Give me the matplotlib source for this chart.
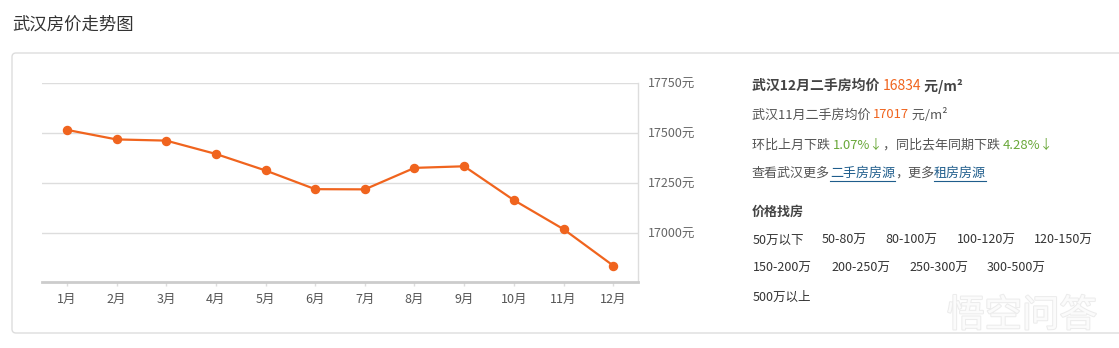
import matplotlib
matplotlib.use('Agg')
import matplotlib.pyplot as plt
from matplotlib.patches import FancyBboxPatch
from matplotlib.lines import Line2D
from matplotlib.transforms import IdentityTransform
import matplotlib.patheffects as pe

plt.rcParams['font.family'] = ['Noto Sans CJK SC', 'DejaVu Sans']

# data
months = ['1月', '2月', '3月', '4月', '5月', '6月', '7月', '8月', '9月', '10月', '11月', '12月']
prices = [17516, 17468, 17462, 17395, 17312, 17218, 17217, 17325, 17333, 17163, 17017, 16834]
yticks = [17000, 17250, 17500, 17750]
price_rows = [['50万以下', '50-80万', '80-100万', '100-120万', '120-150万'],
              ['150-200万', '200-250万', '250-300万', '300-500万'],
              ['500万以上']]

W, H = 1119, 348
orange = '#f0641e'
green = '#6aa83a'
grey = '#555555'
dark = '#444444'
link = '#1f5d8c'

fig = plt.figure(figsize=(W / 100, H / 100), dpi=100)
fig.patch.set_facecolor('white')
renderer = fig.canvas.get_renderer()

def fx(x):
    return x / W

def fy(y):
    return 1 - y / H

# title and outer box
fig.text(fx(12), fy(25), '武汉房价走势图', fontsize=12.5, color='#333333', va='center')
box = FancyBboxPatch((12, H - 333), 1140, 280, boxstyle='round,pad=0,rounding_size=4',
                     transform=IdentityTransform(), fc='white', ec='#dddddd', lw=1, zorder=-10)
fig.add_artist(box)

# chart
ax = fig.add_axes([fx(42), 1 - 282.3 / H, 596 / W, 199 / H])
ax.set_facecolor('none')
x = range(len(months))
ax.plot(x, prices, color=orange, lw=1.6, marker='o', ms=5.8, zorder=3)
ax.set_xlim(-0.5, len(months) - 0.5)
ax.set_ylim(16750, 17750)
ax.set_xticks(list(x))
ax.set_xticklabels(months)
ax.set_yticks(yticks)
ax.set_yticklabels([f'{v}元' for v in yticks])
ax.yaxis.tick_right()
ax.tick_params(axis='y', length=0, pad=7, labelsize=9, labelcolor='#666666')
ax.tick_params(axis='x', length=3, width=1, color='#dddddd', pad=5, labelsize=9, labelcolor=grey)
ax.grid(axis='y', color='#dddddd', lw=1)
ax.set_axisbelow(True)
for s in ['left', 'top']:
    ax.spines[s].set_visible(False)
ax.spines['right'].set_color('#dddddd')
ax.spines['right'].set_linewidth(1)
ax.spines['bottom'].set_color('#cccccc')
ax.spines['bottom'].set_linewidth(2)


def runs(x0, y, parts, size=9.4):
    xc = x0
    for txt, color, weight, ul in parts:
        t = fig.text(fx(xc), fy(y), txt, color=color, fontsize=size, fontweight=weight,
                     va='center', ha='left')
        bb = t.get_window_extent(renderer)
        if ul:
            fig.add_artist(Line2D([fx(xc), fx(xc + bb.width)], [fy(y + 8), fy(y + 8)],
                                  color=color, lw=0.8))
        xc += bb.width
    return xc


runs(752, 86, [('武汉12月二手房均价 ', dark, 'bold', False),
               (str(prices[-1]), orange, 'normal', False),
               (' 元/m²', dark, 'bold', False)], size=10)
runs(752, 115, [('武汉11月二手房均价 ', grey, 'normal', False),
                (str(prices[-2]), orange, 'normal', False),
                (' 元/m²', grey, 'normal', False)])
runs(752, 145, [('环比上月下跌 ', grey, 'normal', False),
                ('1.07%↓', green, 'normal', False),
                ('，同比去年同期下跌 ', grey, 'normal', False),
                ('4.28%↓', green, 'normal', False)])
runs(752, 173, [('查看武汉更多', grey, 'normal', False),
                ('二手房房源', link, 'normal', True),
                ('，更多', grey, 'normal', False),
                ('租房房源', link, 'normal', True)])
fig.text(fx(752), fy(212), '价格找房', fontsize=9.4, fontweight='bold', color=dark, va='center')

row_x = [[753, 822, 885, 957, 1034], [753, 831, 909, 987], [753]]
row_y = [240, 268, 297]
for items, xs, yy in zip(price_rows, row_x, row_y):
    for s, xx in zip(items, xs):
        fig.text(fx(xx), fy(yy), s, fontsize=9, color='#333333', va='center')

# watermark
fig.text(fx(1022), fy(316), '悟空问答', fontsize=27, color='#fbfbfb', ha='center', va='center',
         path_effects=[pe.withStroke(linewidth=1.5, foreground='#ececec')])

fig.savefig('out.png', dpi=100, facecolor='white')
